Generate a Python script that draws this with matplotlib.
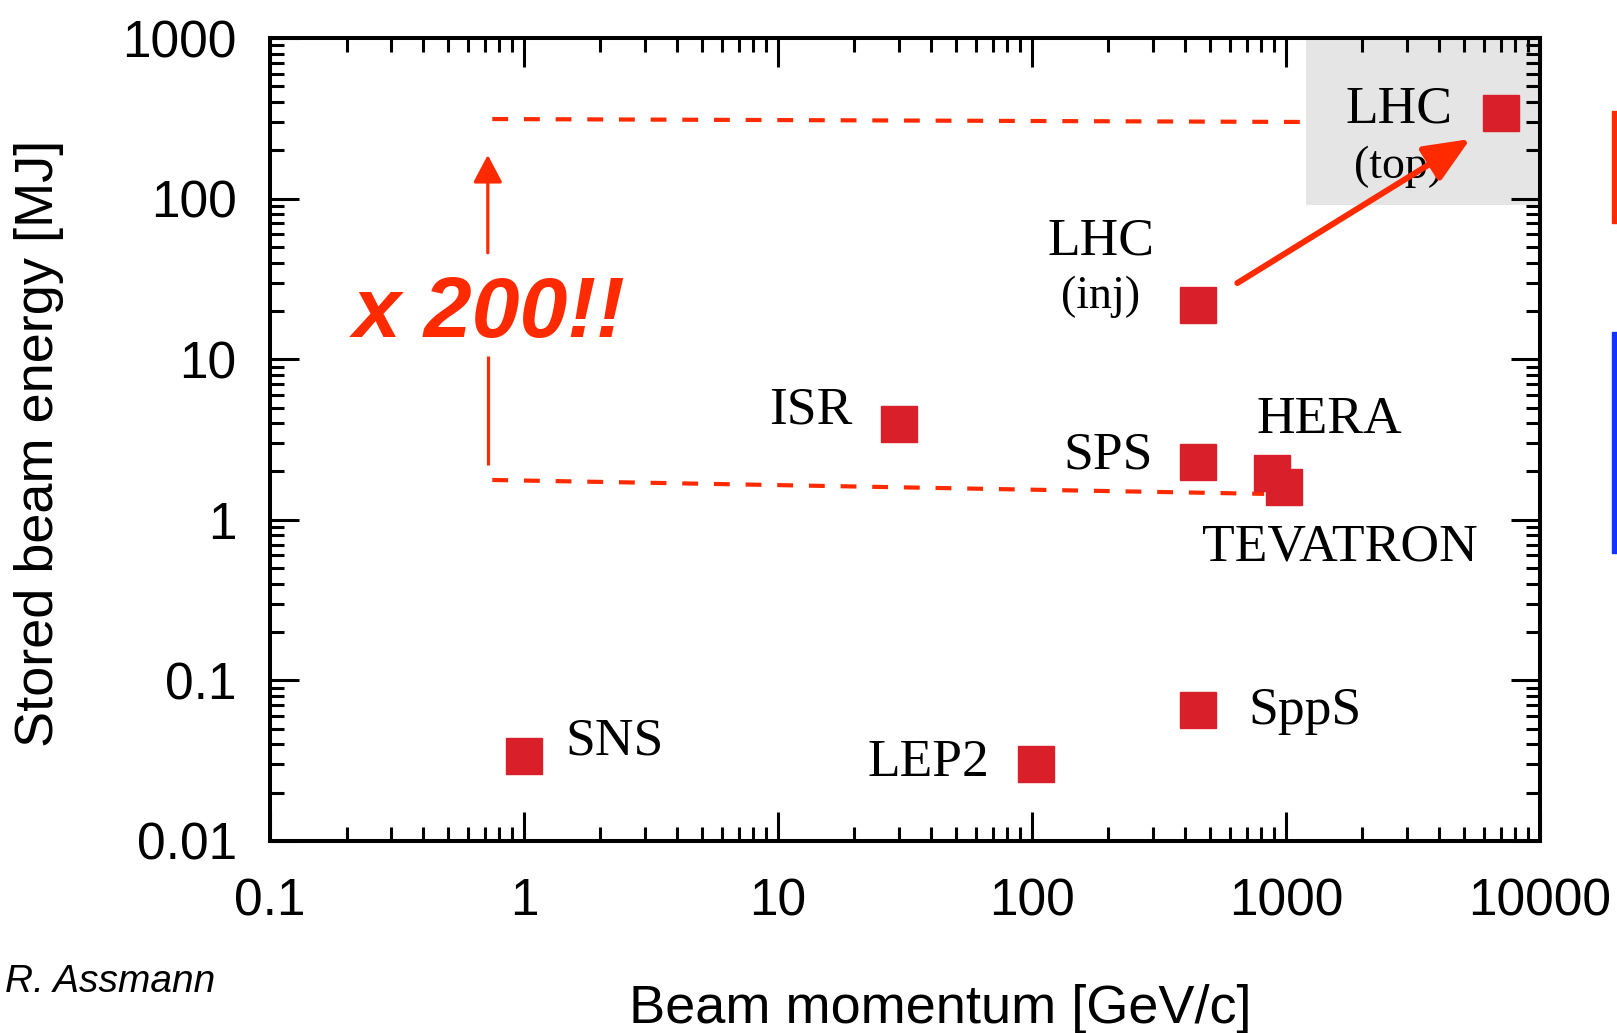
import matplotlib.pyplot as plt
from matplotlib.patches import Rectangle
from matplotlib.ticker import FixedLocator, LogLocator, NullFormatter

# machines: beam momentum [GeV/c] and stored beam energy [MJ]
machines = ["SNS", "LEP2", "SppS", "ISR", "SPS", "HERA", "TEVATRON", "LHC inj", "LHC top"]
momentum = [1.0, 104, 450, 30, 450, 880, 980, 450, 7000]
energy = [0.034, 0.030, 0.065, 3.95, 2.3, 1.96, 1.6, 21.7, 341]

# label lines: (text, machine index, dx px, dy px, alignment, size)
labels = [
    ("SNS", 0, 41, 14, "left", 38.5),
    ("LEP2", 1, -47, 1, "right", 38.5),
    ("SppS", 2, 50, -1, "left", 38.5),
    ("ISR", 3, -47, 13, "right", 38.5),
    ("SPS", 4, -45, 6, "right", 38.5),
    ("HERA", 5, 57, 53, "center", 38.5),
    ("TEVATRON", 6, 56, -60, "center", 38.5),
    ("LHC", 7, -97, 64, "center", 38.5),
    ("(inj)", 7, -97, 8, "center", 33),
    ("LHC", 8, -102, 4, "center", 38.5),
    ("(top)", 8, -102, -54, "center", 33),
]

x_ticks = [0.1, 1, 10, 100, 1000, 10000]
x_tick_labels = ["0.1", "1", "10", "100", "1000", "10000"]
y_ticks = [0.01, 0.1, 1, 10, 100, 1000]
y_tick_labels = ["0.01", "0.1", "1", "10", "100", "1000"]

# guide lines for the "x 200" comparison
upper_guide_x = [0.75, 1200]
upper_guide_y = [313, 300]
lower_guide_x = [0.75, 820]
lower_guide_y = [1.77, 1.45]

RED = "#ff2a00"
MARK = "#d9202a"
SANS = "Liberation Sans"
SERIF = "Liberation Serif"

fig = plt.figure(figsize=(16.17, 10.33), dpi=100)
ax = fig.add_axes([0.167, 0.1859, 0.7854, 0.7773])
ax.set_xscale("log")
ax.set_yscale("log")
ax.set_xlim(0.1, 10000)
ax.set_ylim(0.01, 1000)

# grey highlight behind the LHC top-energy point
ax.add_patch(Rectangle((1200, 91), 10000 - 1200, 1000 - 91,
                       facecolor="#e5e5e5", edgecolor="none", zorder=0))

ax.plot(momentum, energy, "s", color=MARK, markersize=26, zorder=3)

for txt, i, dx, dy, ha, size in labels:
    ax.annotate(txt, (momentum[i], energy[i]), xytext=(dx, dy),
                textcoords="offset pixels", ha=ha, va="center",
                fontsize=size, family=SERIF, zorder=4)

ax.plot(upper_guide_x, upper_guide_y, color=RED, lw=3, dashes=(3.8, 3.8), zorder=2)
ax.plot(lower_guide_x, lower_guide_y, color=RED, lw=3, dashes=(3.8, 3.8), zorder=2)

# vertical "x 200" arrow, broken around the text
ax.plot([0.72, 0.72], [2.2, 10.5], color=RED, lw=2.3, solid_capstyle="butt")
ax.annotate("", xy=(0.72, 187), xytext=(0.72, 46),
            arrowprops=dict(arrowstyle="-|>,head_length=0.85,head_width=0.45",
                            color=RED, lw=2.3, mutation_scale=20,
                            shrinkA=0, shrinkB=0))
ax.text(0.73, 10 ** 1.275, "x 200!!", color=RED, fontsize=62, family=SANS,
        fontweight="bold", style="italic", ha="center", va="center")

# arrow from LHC injection to top energy
ax.annotate("", xy=(5310, 235), xytext=(643, 29.8),
            arrowprops=dict(arrowstyle="-|>,head_length=1.4,head_width=0.6",
                            color=RED, lw=4.3, mutation_scale=20,
                            shrinkA=0, shrinkB=0), zorder=5)

ax.xaxis.set_major_locator(FixedLocator(x_ticks))
ax.set_xticklabels(x_tick_labels)
ax.yaxis.set_major_locator(FixedLocator(y_ticks))
ax.set_yticklabels(y_tick_labels)
ax.xaxis.set_minor_locator(LogLocator(base=10, subs=range(2, 10)))
ax.yaxis.set_minor_locator(LogLocator(base=10, subs=range(2, 10)))
ax.xaxis.set_minor_formatter(NullFormatter())
ax.yaxis.set_minor_formatter(NullFormatter())

ax.tick_params(which="both", direction="in", top=True, right=True, width=2.2)
ax.tick_params(which="major", length=21, labelsize=37)
ax.tick_params(which="minor", length=10)
ax.tick_params(axis="x", which="major", pad=26)
ax.tick_params(axis="y", which="major", pad=24)
for lab in ax.get_xticklabels() + ax.get_yticklabels():
    lab.set_family(SANS)
for spine in ax.spines.values():
    spine.set_linewidth(2.9)

fig.text(0.5813, 0.0232, "Beam momentum [GeV/c]", fontsize=39, family=SANS,
         ha="center", va="center")
fig.text(0.024, 0.571, "Stored beam energy [MJ]", fontsize=39, family=SANS,
         ha="center", va="center", rotation=90)
fig.text(0.003, 0.0494, "R. Assmann", fontsize=28, family=SANS, style="italic",
         ha="left", va="center")

# coloured bars at the right edge of the slide
fig.patches.append(Rectangle((0.9969, 0.784), 0.0031, 0.1084, color=RED,
                             transform=fig.transFigure, figure=fig))
fig.patches.append(Rectangle((0.9969, 0.4647), 0.0031, 0.214, color="#1133ff",
                             transform=fig.transFigure, figure=fig))

fig.savefig("out.png", dpi=100)
